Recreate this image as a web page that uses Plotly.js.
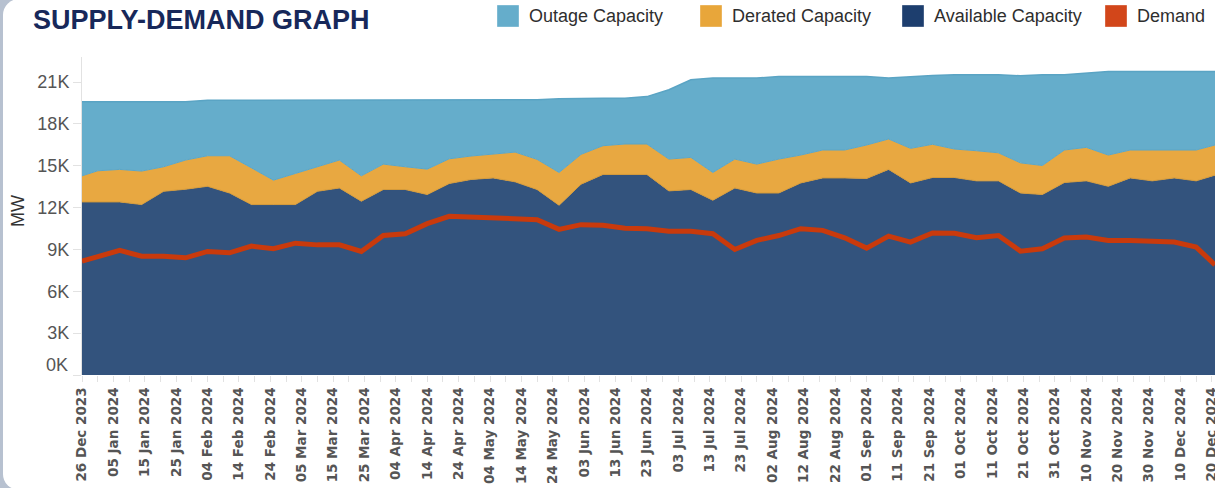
<!DOCTYPE html>
<html><head><meta charset="utf-8">
<script src="https://cdn.plot.ly/plotly-3.0.1.min.js"></script>
<style>
html,body{margin:0;padding:0;width:1215px;height:488px;overflow:hidden;background:#b7c1d0;}
#card{position:absolute;left:3px;top:-1px;width:1400px;height:491px;background:#fff;border-radius:16px;}
#chart{position:absolute;left:0;top:0;width:1215px;height:488px;}
</style></head><body>
<div id="card"></div><div id="chart"></div>
<script>
// ---- data (MW) ----
const dates = ['2023-12-26','2023-12-31','2024-01-07','2024-01-14','2024-01-21','2024-01-28','2024-02-04','2024-02-11','2024-02-18','2024-02-25',
'2024-03-03','2024-03-10','2024-03-17','2024-03-24','2024-03-31','2024-04-07','2024-04-14','2024-04-21','2024-04-28','2024-05-05',
'2024-05-12','2024-05-19','2024-05-26','2024-06-02','2024-06-09','2024-06-16','2024-06-23','2024-06-30','2024-07-07','2024-07-14',
'2024-07-21','2024-07-28','2024-08-04','2024-08-11','2024-08-18','2024-08-25','2024-09-01','2024-09-08','2024-09-15','2024-09-22',
'2024-09-29','2024-10-06','2024-10-13','2024-10-20','2024-10-27','2024-11-03','2024-11-10','2024-11-17','2024-11-24','2024-12-01',
'2024-12-08','2024-12-15','2024-12-21'];
const availableMW = [12410,12410,12410,12220,13170,13320,13530,13050,12220,12220,
12220,13170,13410,12460,13300,13300,12940,13730,14020,14130,
13850,13300,12170,13680,14380,14380,14380,13200,13300,12530,
13410,13050,13050,13770,14130,14130,14090,14740,13770,14160,
14160,13920,13920,13050,12940,13800,13920,13530,14130,13920,
14130,13920,14330];
const deratedMW = [1870,2230,2330,2400,1760,2090,2190,2670,2630,1750,
2230,1760,2000,1820,1820,1630,1820,1770,1680,1710,
2130,2160,2350,2140,2060,2180,2180,2280,2300,1990,
2070,2070,2430,2000,2000,2000,2400,2180,2480,2380,
2040,2160,2010,2160,2080,2330,2400,2240,2000,2210,
2000,2210,2160];
const outageMW = [5320,4960,4860,4980,4670,4190,3980,3980,4850,5730,
5250,4770,4290,5420,4580,4770,4940,4200,4000,3860,
3720,4270,5280,4030,3410,3290,3400,4970,5570,6770,
5810,6170,5920,5630,5270,5270,4910,4370,5150,4940,
5330,5450,5600,6240,6510,5400,5330,5990,5630,5630,
5630,5630,5270];
const demandMW = [8160,8500,8930,8520,8520,8400,8860,8760,9240,9050,
9450,9330,9330,8860,10000,10130,10850,11380,11330,11280,
11270,11140,10440,10780,10730,10530,10490,10300,10300,10130,
9000,9650,10000,10490,10370,9840,9100,9960,9530,10180,
10160,9840,10000,8880,9050,9820,9890,9650,9650,9580,
9530,9170,7900];
const yTickVals = [0,3000,6000,9000,12000,15000,18000,21000];
const yTickText = ['','3K','6K','9K','12K','15K','18K','21K'];
const seriesNames = ['Outage Capacity','Derated Capacity','Available Capacity','Demand'];
const chartTitle = 'SUPPLY-DEMAND GRAPH';
const yTitle = 'MW';

// ---- styles / layout ----
const C = {outage:'#65adcb', derated:'#e8a841', avail:'#33537d', demand:'#c93a0c'};
const legendColors = ['#65adcb','#e8a63a','#1d3e6e','#d2461a'];
const W=1215,H=488, M={l:82,r:0,t:57,b:113};
const pw=W-M.l-M.r, ph=H-M.t-M.b;
const px2x = p => (p-M.l)/pw;
const py2y = p => (H-M.b-p)/ph;

const traces = [
 {x:dates,y:availableMW,name:seriesNames[2],type:'scatter',mode:'lines',stackgroup:'cap',
  fillcolor:C.avail,line:{color:'#d49a3a',width:1},showlegend:false},
 {x:dates,y:deratedMW,name:seriesNames[1],type:'scatter',mode:'lines',stackgroup:'cap',
  fillcolor:C.derated,line:{color:'#5ca6c6',width:1},showlegend:false},
 {x:dates,y:outageMW,name:seriesNames[0],type:'scatter',mode:'lines',stackgroup:'cap',
  fillcolor:C.outage,line:{color:'#5aa4c4',width:1.5},showlegend:false},
 {x:dates,y:demandMW,name:seriesNames[3],type:'scatter',mode:'lines',
  line:{color:C.demand,width:5},showlegend:false}
];

const shapes=[], annotations=[];
const swX=[497,700,902,1105];
seriesNames.forEach((n,i)=>{
  shapes.push({type:'rect',xref:'paper',yref:'paper',x0:px2x(swX[i]),x1:px2x(swX[i]+22),y0:py2y(27),y1:py2y(5),
    fillcolor:legendColors[i],line:{color:'rgba(255,255,255,0.35)',width:1}});
  annotations.push({xref:'paper',yref:'paper',x:px2x(swX[i]+30),y:py2y(16),xanchor:'left',yanchor:'middle',
    text:n,showarrow:false,font:{family:'Liberation Sans, Arial, sans-serif',size:18,color:'#2e2e2e'}});
});
annotations.push({xref:'paper',yref:'y',x:px2x(70),y:0,yshift:10,xanchor:'right',yanchor:'middle',text:'0K',showarrow:false,
  font:{family:'Liberation Sans, Arial, sans-serif',size:18,color:'#555'}});
annotations.push({xref:'paper',yref:'paper',x:px2x(18),y:py2y(211),xanchor:'center',yanchor:'middle',text:yTitle,textangle:-90,showarrow:false,
  font:{family:'Liberation Sans, Arial, sans-serif',size:18,color:'#333'}});

const layout = {
  width:W,height:H,margin:M,paper_bgcolor:'rgba(0,0,0,0)',plot_bgcolor:'rgba(0,0,0,0)',showlegend:false,
  title:{text:'<b>'+chartTitle+'</b>',xref:'container',yref:'container',x:33/W,xanchor:'left',y:1-20/H,yanchor:'middle',
    font:{family:'Liberation Sans, Arial, sans-serif',size:27,color:'#17285a'}},
  xaxis:{type:'date',range:['2023-12-26','2024-12-21'],tick0:'2023-12-26',dtick:864000000,tickformat:'%d %b %Y',tickangle:-90,
    ticks:'outside',ticklen:6,tickcolor:'#e2e2e2',showgrid:false,zeroline:false,showline:false,ticklabeloverflow:'allow',
    minor:{dtick:432000000,tick0:'2023-12-26',ticks:'outside',ticklen:6,tickcolor:'#e2e2e2',showgrid:false},
    tickfont:{family:'DejaVu Sans, sans-serif',size:13.5,color:'#555',weight:'bold'}},
  yaxis:{range:[0,22800],tickvals:yTickVals,ticktext:yTickText,ticks:'outside',ticklen:8,tickcolor:'#e2e2e2',
    showgrid:false,zeroline:false,showline:true,linecolor:'#e2e2e2',linewidth:1,
    tickfont:{family:'Liberation Sans, Arial, sans-serif',size:18,color:'#555'}},
  shapes:shapes,annotations:annotations
};
Plotly.newPlot('chart',traces,layout,{displayModeBar:false,staticPlot:true});
</script></body></html>
